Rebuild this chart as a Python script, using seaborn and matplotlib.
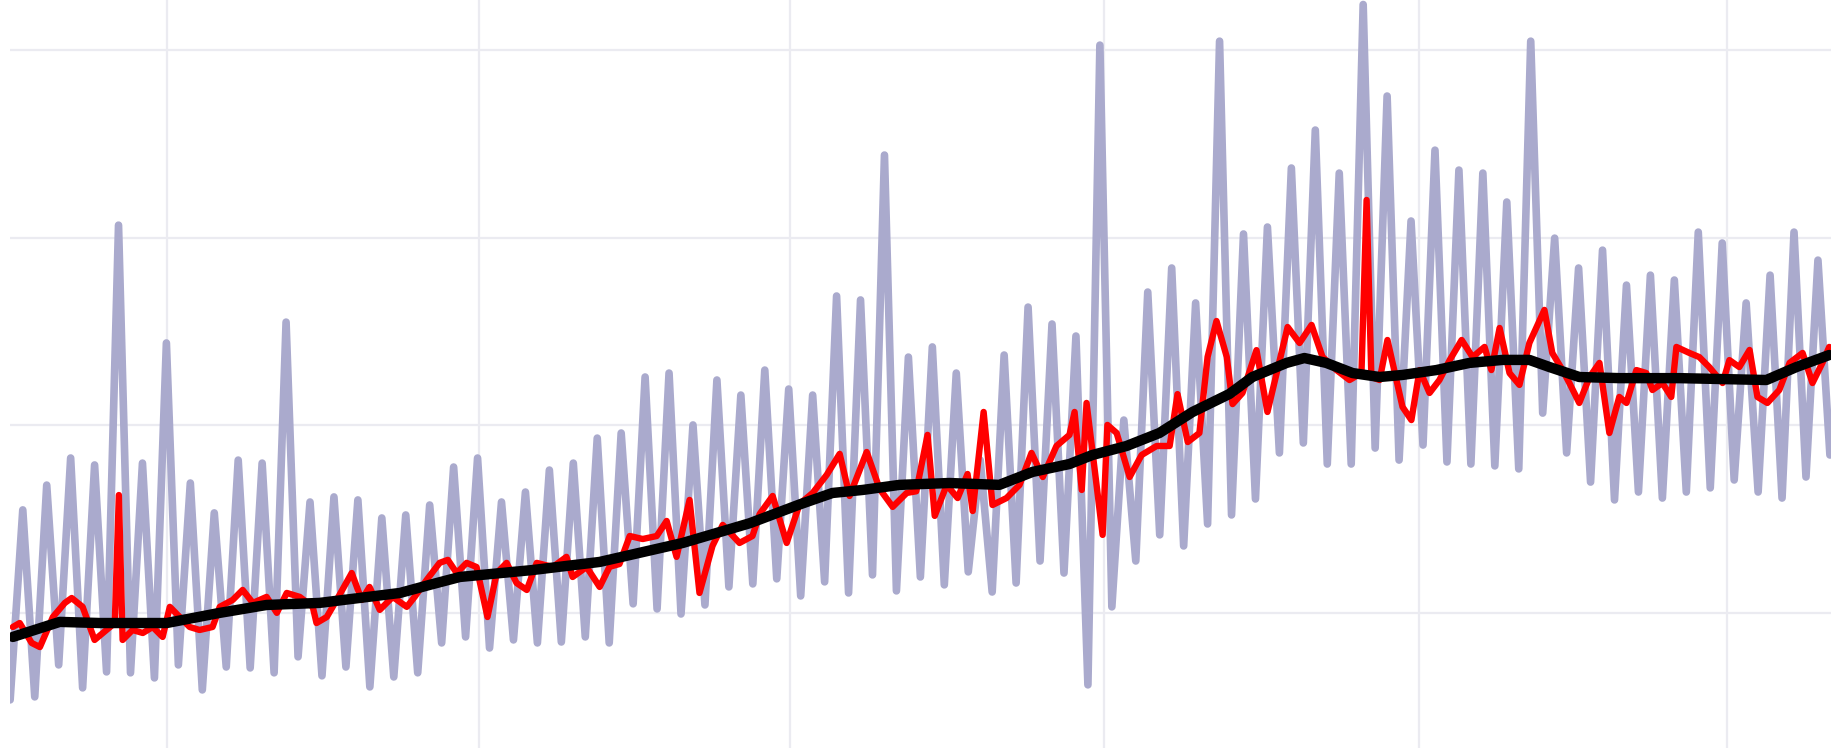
import numpy as np
import pandas as pd
import seaborn as sns
import matplotlib.pyplot as plt
import matplotlib.dates as mdates

''' data (read off the chart) '''
start = pd.Timestamp('2015-11-16')

# daily series: value on the first day, then the weekly highs and the weekly lows
first_value = 540
first_high_day = 3.7
week_high = [1551, 1683, 1827, 1790, 3066, 1800, 2439, 1694, 1535, 1816,
             1800, 2550, 1593, 1620, 1604, 1508, 1524, 1577, 1779, 1827,
             1593, 1646, 1763, 1800, 1933, 1960, 2258, 2279, 2003, 2242,
             2162, 2295, 2194, 2162, 2689, 2668, 3439, 2364, 2418, 2279,
             1816, 2375, 2630, 2540, 2476, 4024, 2029, 2710, 2838, 2652,
             4045, 3019, 3056, 3370, 3572, 3343, 4240, 3753, 3088, 3465,
             3359, 3343, 3189, 4045, 2997, 2838, 2933, 2747, 2800, 2774,
             3029, 2971, 2652, 2800, 3029, 2880]
week_low = [556, 726, 604, 689, 684, 657, 726, 593, 715, 710,
            684, 769, 668, 715, 609, 662, 684, 843, 875, 816,
            859, 843, 848, 875, 843, 1051, 1024, 997, 1045, 1141,
            1157, 1184, 1093, 1168, 1109, 1205, 1120, 1194, 1152, 1221,
            1114, 1162, 1279, 1215, 620, 1035, 1279, 1418, 1359, 1476,
            1524, 1609, 1854, 1907, 1795, 1795, 1880, 1816, 1896, 1806,
            1795, 1785, 1769, 2066, 1854, 1699, 1604, 1646, 1614, 1646,
            1668, 1710, 1646, 1614, 1726, 1843]

# weekly average (red)
avg_day = [0.8, 2.8, 6.3, 8.7, 12.5, 16.0, 18.0, 21.2, 24.7, 28.2,
           30.6, 31.8, 32.9, 35.8, 38.8, 41.7, 44.6, 46.7, 49.6, 52.5,
           55.4, 59.2, 61.3, 65.1, 68.0, 71.0, 75.0, 78.0, 80.9, 84.7,
           88.5, 89.6, 92.6, 95.5, 99.9, 102.8, 105.1, 108.1, 111.9, 116.0,
           118.3, 121.8, 125.6, 128.0, 130.6, 133.5, 136.4, 139.6, 142.3, 145.2,
           148.1, 151.1, 154.0, 158.7, 162.7, 164.5, 168.6, 172.4, 175.3, 178.2,
           181.2, 185.0, 189.1, 192.0, 194.9, 198.7, 201.6, 205.4, 208.4, 213.3,
           217.1, 219.2, 223.0, 227.1, 230.9, 234.7, 238.8, 242.6, 245.5, 250.5,
           254.3, 258.1, 262.2, 265.0, 268.3, 270.4, 273.9, 277.1, 280.0, 281.5,
           284.7, 287.3, 291.4, 295.2, 298.7, 302.0, 306.0, 309.8, 311.3, 313.4,
           314.8, 319.5, 320.9, 323.6, 327.4, 330.9, 335.3, 339.1, 341.4, 344.4,
           347.8, 350.2, 352.8, 355.8, 357.5, 360.4, 364.5, 367.7, 370.4, 373.6,
           377.1, 380.6, 383.8, 387.9, 391.7, 395.2, 396.7, 398.1, 400.5, 402.8,
           407.2, 409.8, 412.2, 415.1, 418.0, 421.0, 424.5, 427.7, 431.2, 433.2,
           435.6, 438.5, 441.4, 444.3, 448.7, 451.0, 454.0, 456.0, 458.9, 461.9,
           464.8, 467.7, 470.6, 472.7, 475.6, 478.5, 480.3, 483.2, 485.8, 487.3,
           491.1, 494.0, 496.9, 500.8, 502.8, 505.7, 508.7, 511.0, 513.9, 517.4,
           520.4, 524.2, 527.1, 530.0, 532.0]
avg_val = [928, 949, 843, 821, 981, 1056, 1082, 1035, 859, 912,
           949, 1630, 859, 912, 896, 928, 875, 1035, 981, 928,
           912, 928, 1035, 1072, 1125, 1056, 1088, 1003, 1109, 1088,
           1035, 949, 981, 1072, 1215, 1072, 1141, 1019, 1088, 1035,
           1088, 1178, 1269, 1285, 1215, 1269, 1247, 981, 1215, 1269,
           1162, 1125, 1269, 1247, 1301, 1194, 1247, 1141, 1248, 1263,
           1412, 1396, 1412, 1492, 1301, 1604, 1109, 1359, 1471, 1375,
           1412, 1529, 1625, 1375, 1583, 1641, 1737, 1849, 1625, 1859,
           1662, 1567, 1641, 1650, 1950, 1519, 1684, 1614, 1742, 1545,
           2072, 1577, 1614, 1684, 1854, 1726, 1891, 1950, 2072, 1657,
           2120, 1418, 2003, 1960, 1726, 1843, 1891, 1891, 2167, 1912,
           1960, 2365, 2556, 2365, 2114, 2173, 2401, 2072, 2279, 2524,
           2439, 2535, 2365, 2295, 2242, 2279, 3200, 2258, 2242, 2455,
           2099, 2029, 2295, 2173, 2242, 2348, 2455, 2364, 2418, 2295,
           2519, 2279, 2216, 2439, 2615, 2386, 2295, 2226, 2120, 2258,
           2333, 1960, 2152, 2120, 2295, 2279, 2189, 2226, 2152, 2418,
           2386, 2364, 2311, 2226, 2348, 2311, 2402, 2152, 2120, 2189,
           2333, 2386, 2226, 2333, 2418]

# trend (black)
trend_day = [0.8, 14.5, 26.2, 45.8, 61.3, 75.0, 90.5, 114.0, 122.7, 131.5,
             152.8, 172.4, 196.7, 216.3, 230.9, 240.5, 249.3, 260.1, 274.7, 289.3,
             299.0, 309.8, 316.5, 326.5, 336.1, 345.8, 356.6, 363.3, 373.3, 378.5,
             384.9, 392.6, 400.5, 407.2, 417.1, 426.8, 436.5, 444.3, 450.2, 458.9,
             470.6, 488.2, 513.6, 522.4, 532.0]
trend_val = [875, 955, 949, 949, 1003, 1045, 1056, 1109, 1152, 1194,
             1231, 1274, 1375, 1480, 1580, 1641, 1657, 1684, 1694, 1684,
             1753, 1795, 1843, 1891, 1960, 2072, 2168, 2258, 2333, 2359,
             2333, 2279, 2258, 2269, 2295, 2333, 2349, 2349, 2311, 2258,
             2252, 2252, 2242, 2311, 2375]

''' build frames '''
high_days = first_high_day + 7 * np.arange(len(week_high))
low_days = high_days + 3.5
daily = pd.DataFrame({'day': np.concatenate([[0], high_days, low_days]),
                      'value': [first_value] + week_high + week_low})
daily = daily.sort_values('day')
daily['date'] = start + pd.to_timedelta(daily['day'], unit='D')

avg = pd.DataFrame({'date': start + pd.to_timedelta(avg_day, unit='D'), 'value': avg_val})
trend = pd.DataFrame({'date': start + pd.to_timedelta(trend_day, unit='D'), 'value': trend_val})

''' plot '''
sns.set_style('whitegrid', {'grid.color': '#ebebf1'})
fig, ax = plt.subplots(figsize=(18.42, 7.48), dpi=100)
fig.subplots_adjust(left=0.0055, right=0.994, bottom=0, top=1)

sns.lineplot(data=daily, x='date', y='value', color='#aaaacd', lw=5.5,
             solid_joinstyle='round', solid_capstyle='round', ax=ax, zorder=2)
sns.lineplot(data=avg, x='date', y='value', color='#ff0000', lw=4.6,
             solid_joinstyle='round', ax=ax, zorder=3)
sns.lineplot(data=trend, x='date', y='value', color='black', lw=7.5,
             solid_joinstyle='round', solid_capstyle='round', ax=ax, zorder=4)

ax.set_xlim(start, start + pd.Timedelta(days=532.5))
ax.set_ylim(284, 4264)
ax.set_yticks([1000, 2000, 3000, 4000])
ax.xaxis.set_major_locator(mdates.MonthLocator(bymonth=[1, 4, 7, 10]))
ax.grid(True, lw=1.6)
ax.tick_params(length=0, labelbottom=False, labelleft=False)
ax.set_xlabel('')
ax.set_ylabel('')
for s in ax.spines.values():
    s.set_visible(False)

fig.savefig('out.png', dpi=100)
